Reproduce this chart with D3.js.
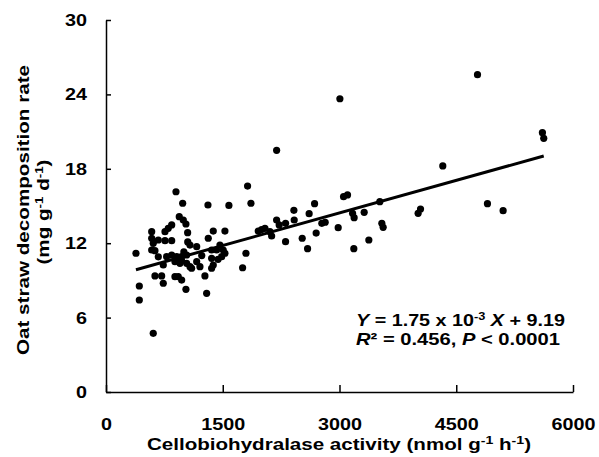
<!DOCTYPE html>
<html><head><meta charset="utf-8">
<script src="https://cdn.jsdelivr.net/npm/d3@7"></script>
<style>body{margin:0;background:#fff;} text{font-family:"Liberation Sans",Arial,sans-serif;font-weight:bold;fill:#000;}</style>
</head><body>
<svg id="c" width="599" height="457"></svg>
<script>
const activity = [607,428,428,385,587,629,587,587,607,672,758,844,758,800,844,899,941,993,1027,1049,985,1079,1165,779,844,908,972,1036,736,886,950,1036,1079,629,715,736,886,928,972,1027,1100,1165,1207,1271,1293,1357,1357,1378,1486,1357,1421,1506,1464,1528,1314,1310,1579,1378,1528,1819,1862,1798,1755,1956,2042,2106,2128,2192,2192,2225,2307,2307,2414,2418,2521,2590,2610,2680,2700,2773,2816,2983,3005,3052,3103,3168,3188,3184,3317,3377,3518,3544,3561,4010,4041,4327,4773,4901,5102,5607,5624,672,970,1050,1000,1230,1440,2000];
const decomp = [4.73,8.55,7.42,11.19,11.45,11.40,12.93,12.40,11.99,12.26,12.20,12.20,12.93,13.20,13.47,16.15,14.14,13.87,13.55,12.85,15.22,11.85,11.72,10.91,11.05,10.91,10.91,11.05,10.24,10.51,10.38,10.38,10.11,9.36,9.36,8.77,9.30,9.30,9.03,8.28,9.98,10.51,10.11,9.36,7.96,10.78,9.98,10.24,10.91,11.45,11.45,11.45,11.85,11.19,12.40,15.08,15.05,12.98,12.98,16.61,15.22,11.19,10.02,12.98,13.20,12.93,12.58,13.87,19.49,13.47,13.60,12.12,14.65,13.87,12.40,11.56,14.38,15.19,12.82,13.60,13.69,13.25,23.65,15.75,15.89,14.41,14.06,11.56,14.49,12.26,15.35,13.61,13.28,14.41,14.76,18.23,25.59,15.19,14.62,20.91,20.46,10.9,10.6,12.1,11.3,11.0,10.7,13.1];
const xTicks = [0,1500,3000,4500,6000];
const yTicks = [0,6,12,18,24,30];
const slope = 1.75e-3, intercept = 9.19;

const svg = d3.select("#c");
const x = d3.scaleLinear().domain([0,6000]).range([106,573]);
const y = d3.scaleLinear().domain([0,30]).range([392,20]);

// axes
const xa = svg.append("g").attr("transform","translate(0,392)")
  .call(d3.axisBottom(x).tickValues(xTicks).tickFormat(d3.format("d")).tickSizeInner(-7).tickSizeOuter(0).tickPadding(26));
const ya = svg.append("g").attr("transform","translate(106,0)")
  .call(d3.axisLeft(y).tickValues(yTicks).tickFormat(d3.format("d")).tickSizeInner(-5).tickSizeOuter(0).tickPadding(19));
[xa,ya].forEach(a=>{
  a.select(".domain").attr("stroke","#000").attr("stroke-width",1.5);
  a.selectAll(".tick line").attr("stroke","#000").attr("stroke-width",1.5);
  a.selectAll("text").attr("font-size",17).attr("fill","#000")
    .attr("font-family",'"Liberation Sans",Arial,sans-serif').attr("font-weight","bold");
  a.selectAll(".tick text").each(function(d){
    d3.select(this).attr("textLength", String(d).length*11).attr("lengthAdjust","spacingAndGlyphs");
  });
});

// points
svg.append("g").selectAll("circle").data(activity).join("circle")
  .attr("cx",(d)=>x(d)).attr("cy",(d,i)=>y(decomp[i])).attr("r",3.6).attr("fill","#000");

// regression line
const xmin=d3.min(activity), xmax=d3.max(activity);
svg.append("line").attr("x1",x(xmin)).attr("y1",y(slope*xmin+intercept))
  .attr("x2",x(xmax)).attr("y2",y(slope*xmax+intercept))
  .attr("stroke","#000").attr("stroke-width",3);

// axis titles
const xt = svg.append("text").attr("x",339).attr("y",450).attr("text-anchor","middle").attr("font-size",16)
  .attr("textLength",384).attr("lengthAdjust","spacingAndGlyphs");
xt.append("tspan").text("Cellobiohydralase activity (nmol g");
xt.append("tspan").attr("font-size",11).attr("dy",-6).text("-1");
xt.append("tspan").attr("dy",6).text(" h");
xt.append("tspan").attr("font-size",11).attr("dy",-6).text("-1");
xt.append("tspan").attr("dy",6).text(")");

svg.append("text").attr("transform","translate(29,210) rotate(-90)").attr("text-anchor","middle")
  .attr("font-size",17).attr("textLength",290).attr("lengthAdjust","spacingAndGlyphs")
  .text("Oat straw decomposition rate");
const yt2 = svg.append("text").attr("transform","translate(49,212) rotate(-90)").attr("text-anchor","middle")
  .attr("font-size",17).attr("textLength",105).attr("lengthAdjust","spacingAndGlyphs");
yt2.append("tspan").text("(mg g");
yt2.append("tspan").attr("font-size",11).attr("dy",-6).text("-1");
yt2.append("tspan").attr("dy",6).text(" d");
yt2.append("tspan").attr("font-size",11).attr("dy",-6).text("-1");
yt2.append("tspan").attr("dy",6).text(")");

// annotation
const a1 = svg.append("text").attr("x",356).attr("y",326).attr("font-size",17)
  .attr("textLength",209).attr("lengthAdjust","spacingAndGlyphs");
a1.append("tspan").attr("font-style","italic").text("Y");
a1.append("tspan").text(" = 1.75 x 10");
a1.append("tspan").attr("font-size",11).attr("dy",-6).text("-3");
a1.append("tspan").attr("dy",6).text(" ");
a1.append("tspan").attr("font-style","italic").text("X");
a1.append("tspan").text(" + 9.19");
const a2 = svg.append("text").attr("x",356).attr("y",345).attr("font-size",17)
  .attr("textLength",204).attr("lengthAdjust","spacingAndGlyphs");
a2.append("tspan").attr("font-style","italic").text("R");
a2.append("tspan").text("² = 0.456, ");
a2.append("tspan").attr("font-style","italic").text("P");
a2.append("tspan").text(" < 0.0001");
</script>
</body></html>
